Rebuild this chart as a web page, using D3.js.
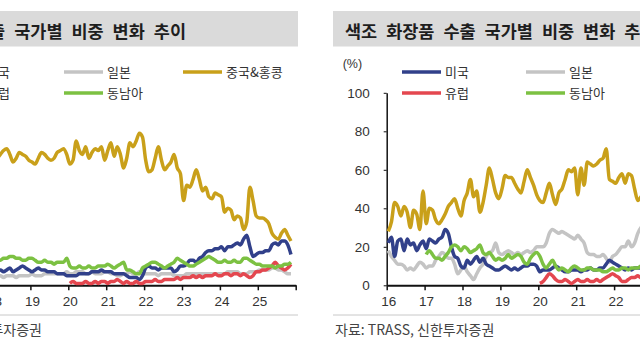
<!DOCTYPE html>
<html><head><meta charset="utf-8">
<script src="https://cdn.jsdelivr.net/npm/d3@7/dist/d3.min.js"></script>
<style>body{margin:0;background:#fff}svg{display:block}</style>
</head><body>
<svg id="c" width="640" height="360"></svg>
<script>
// ---------- data ----------
const tickYears = [2016, 2017, 2018, 2019, 2020, 2021, 2022, 2023, 2024, 2025, 2026];
const tickLabels = ["16", "17", "18", "19", "20", "21", "22", "23", "24", "25", ""];
const yTicks = [0, 20, 40, 60, 80, 100];
const seriesNames = ["미국", "일본", "중국&홍콩", "유럽", "동남아"];

// left panel (monthly, %), first value = month index from Jan-2016
const leftStartMain = 25;   // Feb 2018
const leftStartEU = 48;     // Jan 2020
const leftChina = [66,68,70,71,68,64,66,69,68,67,65,64, 63,66,69,68,66,65,66,69,70,71,68,63,
  65,75,70,68,72,66,69,71,70,72,65,70, 74,67,72,68,61,66,74,72,75,79,77,65,
  59,60,66,72,65,60,62,64,68,61,58,44, 52,51,55,60,55,49,51,46,45,48,47,46,
  38,40,39,34,36,35,29,33,51,44,36,35, 35,34,32,27,25,24,27,29,26,23];
const leftUS = [8,8,7,8,9,7,8,9,10,9,8,7, 8,9,8,8,7,7,7,6,6,6,5,5,
  5,5,6,6,6,6,7,7,7,8,7,7, 7,6,6,6,6,5,4,4,4,3,5,9,
  10,9,9,8,9,9,9,9,7,8,10,10, 11,13,13,12,14,15,17,18,18,19,19,20,
  18,20,20,21,22,21,24,26,20,15,16,17, 17,18,18,21,22,21,23,23,21,16];
const leftJapan = [5,5,4,5,5,5,4,5,5,5,5,6, 5,5,5,6,6,6,6,6,6,6,7,6,
  6,7,7,7,6,6,7,6,6,6,7,7, 6,6,5,5,6,6,7,6,6,7,6,6,
  6,6,6,5,6,6,6,6,5,5,5,5, 6,6,6,6,6,6,6,6,6,6,6,6,
  6,7,7,7,7,6,6,6,7,7,7,8, 8,8,8,9,9,8,8,7,6,6];
const leftSEA = [13,13,14,14,15,15,14,14,13,13,14,14, 13,12,12,13,12,12,11,12,12,12,14,10,
  9,9,10,9,9,10,9,9,10,10,10,11, 10,9,10,11,12,8,8,7,6,6,9,10,
  11,12,12,11,10,9,10,11,12,14,13,12, 11,10,10,11,12,13,14,15,14,13,12,12,
  13,12,12,13,12,12,14,14,13,12,11,11, 10,10,10,10,9,10,10,11,11,12];
const leftEU = [1,2,1,1,1,2,1,1,2,1,2,2, 1,2,2,3,2,1,2,1,1,2,1,1,
  2,2,2,3,2,2,3,3,3,3,4,3, 4,4,4,5,4,5,4,5,5,5,6,5,
  5,6,6,5,6,6,5,6,5,4,5,7, 7,8,8,9,10,12,10,9,8,9,11];

// right panel (색조 화장품)
const rightStartMain = 0;   // Jan 2016
const rightStartSEA = 12;   // Jan 2017
const rightStartEU = 48;    // Jan 2020
const rightChina = [28,33,43,41,36,41,38,30,39,37,29,49, 32,40,39,34,32,34,37,41,43,45,40,36,
  44,48,55,46,49,38,43,52,61,55,48,45, 50,57,56,56,53,50,48,54,60,56,52,47,
  44,43,48,53,47,42,48,50,55,60,59,61, 47,61,52,64,63,62,63,65,66,71,55,54,
  53,56,58,53,58,57,50,44,46,48,50];
const rightUS = [22,25,15,23,24,18,24,21,22,18,21,23, 19,24,23,22,24,25,29,27,20,15,14,10,
  9,13,11,13,15,12,14,11,10,9,8,8, 9,10,9,8,9,8,9,10,10,11,11,10,
  7,8,8,8,9,10,9,8,7,7,8,8, 8,7,8,8,9,8,8,9,9,11,13,12,
  11,10,9,8,9,8,9,9,9,8,8];
const rightJapan = [18,15,13,11,11,10,8,9,8,10,12,11, 9,10,10,13,15,17,16,14,14,11,6,8,
  10,7,5,3,6,9,11,15,17,18,22,17, 16,17,18,17,16,17,16,17,18,17,18,20,
  20,20,22,27,29,28,27,28,27,26,25,24, 26,24,22,17,16,16,15,15,16,14,12,15,
  16,18,20,20,23,20,22,27,30,31,30];
const rightSEA = [16,18,16,14,14,13,15,17,20,21,20,18, 20,19,17,18,19,21,17,16,17,15,13,14,
  13,14,16,14,15,16,15,12,11,14,16,17, 15,11,9,11,13,10,8,9,8,7,9,10,
  9,8,8,9,9,8,8,8,7,7,8,9, 8,8,9,9,8,9,9,9,10,10,11];
const rightEU = [1,2,4,6,5,3,2,2,3,2,1,2, 3,2,2,3,2,2,3,2,3,4,5,6, 5,4,2,2,3,4,4,5,4,4,5];

// ---------- styles ----------
const colors = {"미국": "#31408a", "일본": "#c4c4c4", "중국&홍콩": "#c9a01a", "유럽": "#e4474f", "동남아": "#7cc142"};
const KR = "'Noto Sans CJK KR','Noto Sans',sans-serif";
const NUM = "'Liberation Sans',Arial,sans-serif";

const svg = d3.select("#c");

function panel(cfg) {
  const g = svg.append("g");
  const x = d3.scaleLinear().domain([2016, 2026]).range([cfg.x0, cfg.x0 + 379]);
  const y = d3.scaleLinear().domain([0, 100]).range([285.3, 92.8]);

  // title bar
  g.append("rect").attr("x", cfg.barX).attr("y", 11).attr("width", 438).attr("height", 35.5).attr("fill", "#dadada");
  g.append("text").attr("x", cfg.titleX).attr("y", 38).attr("text-anchor", cfg.titleAnchor)
    .attr("font-family", KR).attr("font-weight", 700).attr("font-size", 17.5).attr("word-spacing", 5)
    .attr("fill", "#1e1e1e").text(cfg.title);

  // legend
  cfg.legend.forEach(l => {
    g.append("line").attr("x1", l.lx).attr("x2", l.lx + 39).attr("y1", l.y).attr("y2", l.y)
      .attr("stroke", colors[l.name]).attr("stroke-width", 3.5);
    g.append("text").attr("x", l.lx + 43).attr("y", l.y + 4.5).attr("font-family", KR).attr("font-size", 13)
      .attr("fill", "#333").text(l.name);
  });
  if (cfg.unit) g.append("text").attr("x", cfg.x0 - 44).attr("y", 68).attr("font-family", NUM).attr("font-size", 12.5)
    .attr("fill", "#333").text("(%)");

  // axes
  const xa = g.append("g").attr("transform", "translate(0,285.3)")
    .call(d3.axisBottom(x).tickValues(tickYears).tickSize(5).tickSizeOuter(0).tickPadding(6)
      .tickFormat((d, i) => tickLabels[i]));
  xa.select(".domain").attr("stroke", "#111").attr("stroke-width", 2);
  xa.selectAll(".tick line").attr("stroke", "#111").attr("stroke-width", 1.5);
  xa.selectAll("text").attr("font-family", NUM).attr("font-size", 13.5).attr("fill", "#333").attr("dx", 1.5);

  const ya = g.append("g").attr("transform", `translate(${cfg.x0},0)`)
    .call(d3.axisLeft(y).tickValues(yTicks).tickSize(3).tickSizeOuter(0).tickPadding(14));
  ya.select(".domain").attr("stroke", "#111").attr("stroke-width", 1.5);
  ya.selectAll(".tick line").attr("stroke", "#111");
  ya.selectAll("text").attr("font-family", NUM).attr("font-size", 13.5).attr("fill", "#333");

  // series
  cfg.series.forEach(s => {
    const line = d3.line()
      .x((d, i) => x(2016 + (s.start + i + 0.5) / 12))
      .y(d => y(d))
      .curve(d3.curveMonotoneX);
    g.append("path").datum(s.values).attr("d", line).attr("fill", "none")
      .attr("stroke", colors[s.name]).attr("stroke-width", 3.5).attr("stroke-linejoin", "round");
  });

  // footer
  g.append("line").attr("x1", cfg.barX).attr("x2", cfg.barX + 438).attr("y1", 315).attr("y2", 315)
    .attr("stroke", "#c8c8c8").attr("stroke-width", 1);
  g.append("text").attr("x", cfg.srcX).attr("y", 335).attr("text-anchor", cfg.srcAnchor)
    .attr("font-family", KR).attr("font-size", 14).attr("fill", "#444").text("자료: TRASS, 신한투자증권");
}

panel({
  x0: -83.3, barX: -140, title: "화장품 수출 국가별 비중 변화 추이", titleX: 186, titleAnchor: "end",
  srcX: 42, srcAnchor: "end", unit: false,
  legend: [
    {name: "미국", lx: -57, y: 72}, {name: "일본", lx: 64, y: 72}, {name: "중국&홍콩", lx: 183, y: 72},
    {name: "유럽", lx: -57, y: 93}, {name: "동남아", lx: 64, y: 93}
  ],
  series: [
    {name: "일본", start: leftStartMain, values: leftJapan},
    {name: "미국", start: leftStartMain, values: leftUS},
    {name: "유럽", start: leftStartEU, values: leftEU},
    {name: "동남아", start: leftStartMain, values: leftSEA},
    {name: "중국&홍콩", start: leftStartMain, values: leftChina}
  ]
});

panel({
  x0: 386.7, barX: 333, title: "색조 화장품 수출 국가별 비중 변화 추이", titleX: 345, titleAnchor: "start",
  srcX: 335, srcAnchor: "start", unit: true,
  legend: [
    {name: "미국", lx: 402, y: 72}, {name: "일본", lx: 526, y: 72}, {name: "중국&홍콩", lx: 650, y: 72},
    {name: "유럽", lx: 402, y: 93}, {name: "동남아", lx: 526, y: 93}
  ],
  series: [
    {name: "일본", start: rightStartMain, values: rightJapan},
    {name: "미국", start: rightStartMain, values: rightUS},
    {name: "유럽", start: rightStartEU, values: rightEU},
    {name: "동남아", start: rightStartSEA, values: rightSEA},
    {name: "중국&홍콩", start: rightStartMain, values: rightChina}
  ]
});
</script>
</body></html>
